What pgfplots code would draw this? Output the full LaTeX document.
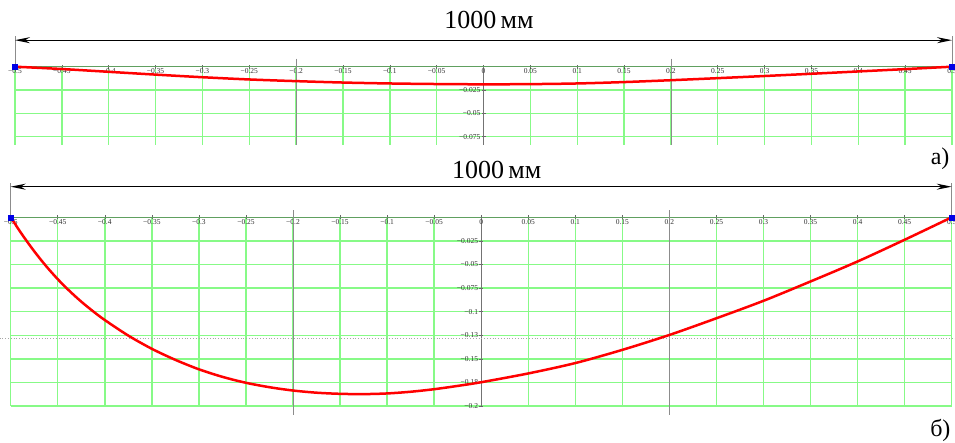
\documentclass[border=0pt]{standalone}
\usepackage{pgfplots}
\pgfplotsset{compat=1.18}
\usepackage{fontspec}
\setmainfont{Liberation Serif}
\usetikzlibrary{arrows.meta}
\definecolor{gridgreen}{RGB}{135,250,135}
\definecolor{axgreen}{RGB}{96,160,96}
\definecolor{curvered}{RGB}{255,0,0}
\definecolor{markblue}{RGB}{0,0,230}
\pgfplotsset{
  mcad/.style={
    scale only axis, axis lines=middle, enlargelimits=false, clip=false,
    xmin=-0.5, xmax=0.5, scaled x ticks=false, scaled y ticks=false,
    hide obscured x ticks=false, hide obscured y ticks=false,
    x axis line style={-, draw=axgreen, line width=1.5pt},
    y axis line style={-, draw=black!55, line width=1pt},
    xtick={-0.5,-0.45,-0.4,-0.35,-0.3,-0.25,-0.2,-0.15,-0.1,-0.05,0,0.05,0.1,0.15,0.2,0.25,0.3,0.35,0.4,0.45,0.5},
    xticklabels={−0.5,−0.45,−0.4,−0.35,−0.3,−0.25,−0.2,−0.15,−0.1,−0.05,0,0.05,0.1,0.15,0.2,0.25,0.3,0.35,0.4,0.45,0.5},
    grid=major, major grid style={gridgreen, line width=1.4pt},
    tick align=center, major tick length=4pt,
    major tick style={black!60, line width=0.6pt},
    tick label style={font=\fontsize{7.5}{8}\selectfont, text=black!80, inner sep=1pt},
    xticklabel style={anchor=north, yshift=1pt},
    yticklabel style={anchor=east},
  }
}
\begin{document}
\begin{tikzpicture}
\useasboundingbox (0,0) rectangle (955pt,443pt);
% ---------- top panel (a)
\begin{axis}[mcad, at={(15pt,298pt)}, anchor=south west,
  width=937pt, height=78.3pt, ymin=-0.084, ymax=0,
  ytick={-0.075,-0.05,-0.025}, yticklabels={−0.075,−0.05,−0.025}]
\draw[black!45, line width=0.8pt] ([yshift=8pt]axis cs:-0.2,0) -- (axis cs:-0.2,-0.084);
\draw[black!45, line width=0.8pt] ([yshift=8pt]axis cs:0.2,0) -- (axis cs:0.2,-0.084);
\draw[black!45, line width=0.6pt] (axis cs:-0.5,0) -- ([yshift=31pt]axis cs:-0.5,0);
\draw[black!45, line width=0.6pt] (axis cs:0.5,0) -- ([yshift=31pt]axis cs:0.5,0);
\draw[black, line width=1.3pt, {Stealth[length=15pt,width=6pt]}-{Stealth[length=15pt,width=6pt]}]
  ([yshift=26.5pt]axis cs:-0.5,0) -- ([yshift=26.5pt]axis cs:0.5,0);
\addplot[curvered, line width=2.5pt, smooth] coordinates {
(-0.5,0) (-0.45,-0.0025) (-0.4,-0.0055) (-0.35,-0.0085) (-0.3,-0.0113)
(-0.25,-0.0137) (-0.2,-0.0155) (-0.15,-0.0170) (-0.1,-0.0180) (-0.05,-0.0186)
(0,-0.0189) (0.05,-0.0187) (0.1,-0.0180) (0.15,-0.0165) (0.2,-0.0145)
(0.25,-0.0123) (0.3,-0.0100) (0.35,-0.0076) (0.4,-0.0051) (0.45,-0.0026) (0.5,0)};
\addplot[only marks, mark=square*, mark size=2.5pt, markblue] coordinates {(-0.5,0) (0.5,0)};
\end{axis}
\node[anchor=base, font=\fontsize{26}{28}\selectfont] at (489pt,414.7pt) {1000\,мм};
\node[anchor=base east, font=\fontsize{24}{26}\selectfont] at (953pt,278pt) {а)};
% ---------- bottom panel (б)
\begin{axis}[mcad, at={(10.7pt,37pt)}, anchor=south west,
  width=941pt, height=188.7pt, ymin=-0.2, ymax=0,
  ytick={-0.2,-0.175,-0.15,-0.125,-0.1,-0.075,-0.05,-0.025},
  yticklabels={−0.2,−0.18,−0.15,−0.13,−0.1,−0.075,−0.05,−0.025}]
\draw[black!45, line width=0.8pt] ([yshift=7pt]axis cs:-0.2,0) -- ([yshift=-9pt]axis cs:-0.2,-0.2);
\draw[black!45, line width=0.8pt] ([yshift=7pt]axis cs:0.2,0) -- ([yshift=-9pt]axis cs:0.2,-0.2);
\draw[black!35, line width=0.8pt, dotted] ([xshift=-11pt]axis cs:-0.5,-0.128) -- ([xshift=4pt]axis cs:0.5,-0.128);
\draw[black!45, line width=0.6pt] (axis cs:-0.5,0) -- ([yshift=34pt]axis cs:-0.5,0);
\draw[black!45, line width=0.6pt] (axis cs:0.5,0) -- ([yshift=34pt]axis cs:0.5,0);
\draw[black, line width=1.3pt, {Stealth[length=15pt,width=6pt]}-{Stealth[length=15pt,width=6pt]}]
  ([yshift=30.6pt]axis cs:-0.5,0) -- ([yshift=30.6pt]axis cs:0.5,0);
\addplot[curvered, line width=2.5pt, smooth] coordinates {
(-0.5,0) (-0.4875,-0.0188) (-0.475,-0.0360) (-0.4625,-0.0516) (-0.45,-0.0656)
(-0.4375,-0.0781) (-0.425,-0.0894) (-0.4125,-0.0996) (-0.4,-0.1089)
(-0.375,-0.1254) (-0.35,-0.1394) (-0.325,-0.1511) (-0.3,-0.1611)
(-0.275,-0.1691) (-0.25,-0.1754) (-0.225,-0.1801) (-0.2,-0.1836)
(-0.175,-0.1859) (-0.15,-0.1871) (-0.125,-0.1874) (-0.1,-0.1867)
(-0.075,-0.1849) (-0.05,-0.1822) (-0.025,-0.1787) (0,-0.1748)
(0.05,-0.1655) (0.1,-0.1545) (0.15,-0.1405) (0.2,-0.1247) (0.25,-0.1070)
(0.3,-0.0885) (0.35,-0.0680) (0.4,-0.0468) (0.45,-0.0238) (0.5,0)};
\addplot[only marks, mark=square*, mark size=2.5pt, markblue] coordinates {(-0.5,0) (0.5,0)};
\end{axis}
\node[anchor=base, font=\fontsize{26}{28}\selectfont] at (496.7pt,264.7pt) {1000\,мм};
\node[anchor=base east, font=\fontsize{24}{26}\selectfont] at (954pt,6.3pt) {б)};
\end{tikzpicture}
\end{document}
